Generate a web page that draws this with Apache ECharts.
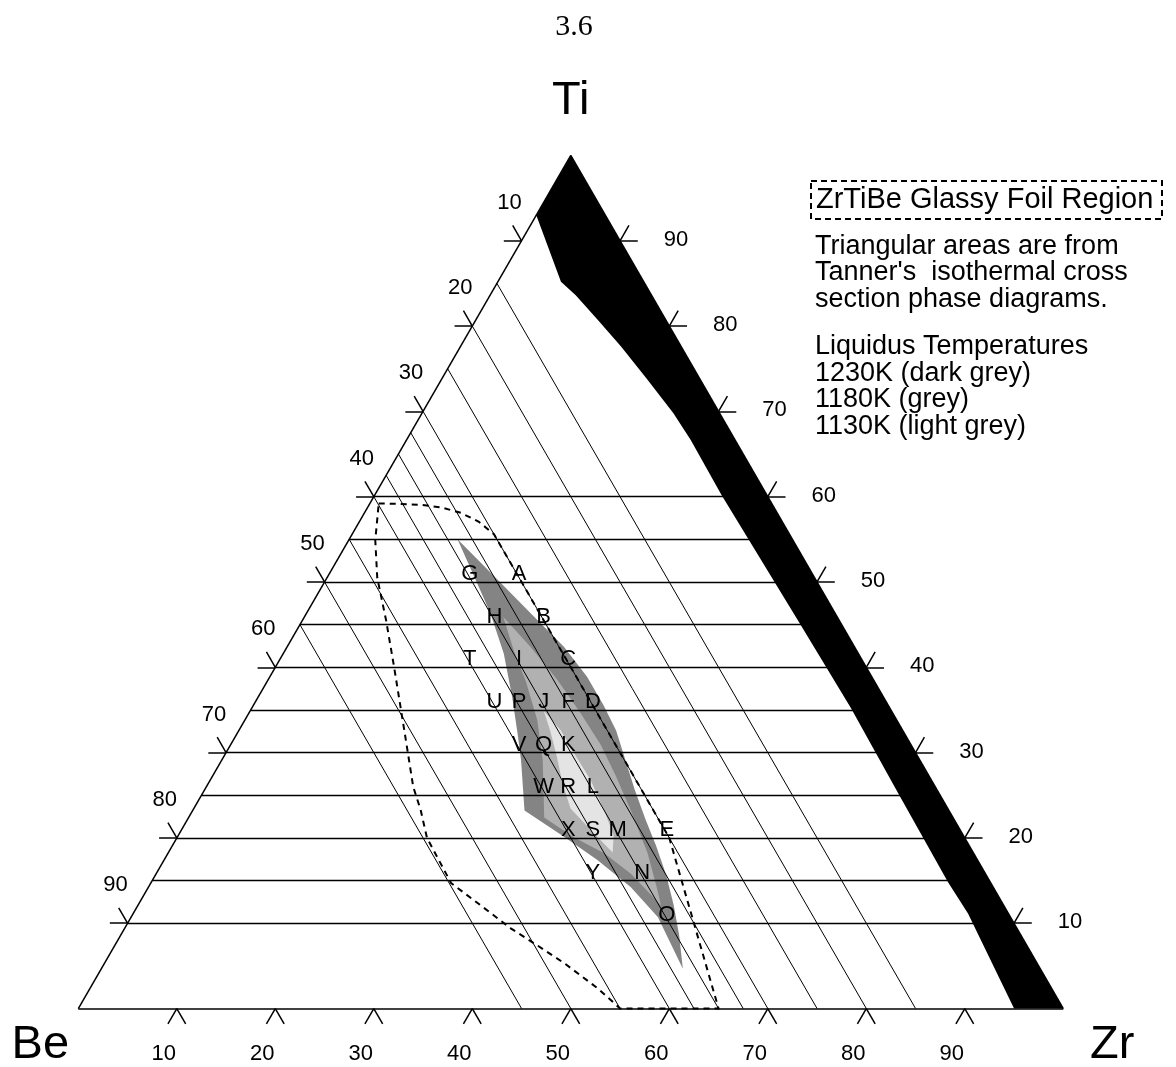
<!DOCTYPE html>
<html>
<head>
<meta charset="utf-8">
<script src="https://cdn.jsdelivr.net/npm/echarts/dist/echarts.min.js"></script>
<style>
  html, body { margin: 0; padding: 0; background: #fff; }
  #chart { width: 1176px; height: 1067px; }
</style>
</head>
<body>
<div id="chart"></div>
<script>
// ---- Data (compositions are [Be, Zr, Ti] in at.%) ----

// Tick values along each side of the triangle
const tickValues = [10, 20, 30, 40, 50, 60, 70, 80, 90];

// Guide lines: constant Ti (horizontal) and constant Be (parallel to the Ti-Zr side)
const tiGuideLines = [10, 15, 20, 25, 30, 35, 40, 45, 50, 55, 60];
const beGuideLines = [15, 20, 25, 30, 32.5, 35, 37.5, 40, 45, 50, 55];

// Alloy designations and their nominal compositions
const alloyNames = ['G', 'A', 'H', 'B', 'T', 'I', 'C', 'U', 'P', 'J', 'F', 'D',
  'V', 'Q', 'K', 'W', 'R', 'L', 'X', 'S', 'M', 'E', 'Y', 'N', 'O'];
const alloyCompositions = [
  [35, 15, 50], [30, 20, 50],
  [35, 20, 45], [30, 25, 45],
  [40, 20, 40], [35, 25, 40], [30, 30, 40],
  [40, 25, 35], [37.5, 27.5, 35], [35, 30, 35], [32.5, 32.5, 35], [30, 35, 35],
  [40, 30, 30], [37.5, 32.5, 30], [35, 35, 30],
  [40, 35, 25], [37.5, 37.5, 25], [35, 40, 25],
  [40, 40, 20], [37.5, 42.5, 20], [35, 45, 20], [30, 50, 20],
  [40, 45, 15], [35, 50, 15],
  [35, 55, 10]
];

// Liquidus regions
const liquidus1230K = [
  [34, 11, 55], [32.3, 17.4, 50.3], [30.9, 22.8, 46.3], [29.5, 28.1, 42.4],
  [28.9, 32.2, 38.9], [28.9, 35.55, 35.55], [29.1, 38.3, 32.6], [29.9, 41, 29.1],
  [30.7, 43.7, 25.6], [31.35, 46.6, 22.05], [31.8, 49.1, 19.1], [32.5, 51.9, 15.6],
  [33.5, 54.4, 12.1], [34.7, 56.7, 8.6], [36.3, 59.05, 4.65],
  [35.8, 53.5, 10.7], [36.8, 49, 14.2], [38.6, 44, 17.4], [40.6, 39.3, 20.1],
  [43.1, 33.7, 23.2], [40.5, 30.4, 29.1], [39.3, 28.5, 32.2], [37.7, 25.8, 36.5],
  [36, 22.4, 41.6], [35, 18.7, 46.3], [34.5, 14.9, 50.6]
];
const liquidus1180K = [
  [33.9, 20.2, 45.9], [32.9, 24.7, 42.4], [32.1, 29.4, 38.5], [31.7, 33.7, 34.6],
  [31.5, 37.6, 30.9], [31.8, 40.9, 27.3], [32.3, 44.5, 23.2], [33.1, 48.7, 18.2],
  [34.2, 51.7, 14.1], [34.8, 53.1, 12.1], [36, 48.2, 15.8], [37.5, 44.3, 18.2],
  [39.7, 40.2, 20.1], [41.5, 36.1, 22.4], [38.3, 32.6, 29.1], [36.5, 29.7, 33.8],
  [35.4, 26.3, 38.3], [34.8, 23.2, 42]
];
const liquidus1130K = [
  [35.3, 29.8, 34.9], [34.7, 32.7, 32.6], [34.7, 35.1, 30.2], [34.6, 38.65, 26.75],
  [35, 41.75, 23.25], [35.5, 44.2, 20.3], [36.6, 45.1, 18.3], [37.1, 43.2, 19.7],
  [37.7, 40.8, 21.5], [38.3, 38.25, 23.45], [37.7, 36.1, 26.2], [36.6, 33.7, 29.7],
  [35.8, 31.6, 32.6]
];

// Glassy foil region boundary (closed)
const glassyFoilRegion = [
  [39.9, 0.9, 59.2], [37.7, 3.15, 59.15], [35.7, 5.25, 59.05], [33.8, 7.45, 58.75],
  [32.1, 9.8, 58.1], [30.8, 12.15, 57.05], [30, 14.4, 55.6], [30, 50, 20],
  [35, 65, 0], [45, 55, 0], [46.1, 51.5, 2.4], [48, 46.7, 5.3], [49.7, 42.9, 7.4],
  [51.4, 39.2, 9.4], [53.3, 34.3, 12.4], [54.8, 30.5, 14.7], [54.6, 25.4, 20],
  [53.6, 23.1, 23.3], [53, 21, 26], [51, 17.5, 31.5], [47.9, 12, 40.1],
  [46, 8.5, 45.5], [44.4, 5.1, 50.5], [42.4, 2.7, 54.9], [39.9, 0.9, 59.2]
];

// Band along the Ti-Zr side
const tiZrBand = [
  [0, 0, 100], [7, 0, 93], [8.4, 6.4, 85.2], [7.7, 8.7, 83.6], [6.9, 12.4, 80.7],
  [6.1, 16.3, 77.6], [5.4, 20.7, 73.9], [4.7, 25.5, 69.8], [4.5, 28.85, 66.65],
  [4.6, 35.2, 60.2], [4.2, 50.3, 45.5], [3.95, 60.85, 35.2], [4.15, 70.85, 25],
  [4.3, 80.9, 14.8], [4.1, 84.75, 11.15], [5, 95, 0], [0, 100, 0]
];

// ---- Geometry helpers ----
const H = Math.sqrt(3) / 2;
// Be at (0,0), Zr at (100,0), Ti at (50, 86.6)
function toXY(c) { return [c[1] + c[2] / 2, c[2] * H]; }
function add(p, dx, dy) { return [p[0] + dx, p[1] + dy]; }

const TICK = 1.8;
const PX = 9.85;           // pixels per composition unit
const ORIGIN = [78.3, 1008.5];
const W = 1176, HGT = 1067;

// guide segments
const tiSegs = tiGuideLines.map(t => ({ coords: [toXY([100 - t, 0, t]), toXY([0, 100 - t, t])] }));
const beSegs = beGuideLines.map(b => ({ coords: [toXY([b, 0, 100 - b]), toXY([b, 100 - b, 0])] }));

// frame and ticks
const frameSegs = [
  { coords: [toXY([100, 0, 0]), toXY([0, 0, 100])] },
  { coords: [toXY([100, 0, 0]), toXY([0, 100, 0])] },
  { coords: [toXY([0, 100, 0]), toXY([0, 0, 100])] }
];
tickValues.forEach(v => {
  const l = toXY([v, 0, 100 - v]);
  frameSegs.push({ coords: [l, add(l, -TICK, 0)] });
  frameSegs.push({ coords: [l, add(l, -TICK / 2, TICK * H)] });
  const r = toXY([0, 100 - v, v]);
  frameSegs.push({ coords: [r, add(r, TICK, 0)] });
  frameSegs.push({ coords: [r, add(r, TICK / 2, TICK * H)] });
  const b = toXY([100 - v, v, 0]);
  frameSegs.push({ coords: [b, add(b, -TICK / 2, -TICK * H)] });
  frameSegs.push({ coords: [b, add(b, TICK / 2, -TICK * H)] });
});

const liquidusLayers = [
  { pts: liquidus1230K, fill: '#848484' },
  { pts: liquidus1180K, fill: '#b1b1b1' },
  { pts: liquidus1130K, fill: '#e4e4e4' }
];

function polygonSeries(layers, z) {
  return {
    type: 'custom',
    coordinateSystem: 'cartesian2d',
    silent: true,
    z: z,
    data: layers.map((l, i) => [i, 0]),
    renderItem: function (params, api) {
      const layer = layers[params.dataIndex];
      return {
        type: 'polygon',
        shape: { points: layer.pts.map(c => api.coord(toXY(c))) },
        style: { fill: layer.fill, stroke: null }
      };
    }
  };
}

const FONT = '"Liberation Sans", Arial, Helvetica, sans-serif';

// text placed at a composition point, shifted by a pixel offset
function textSeries(items, size, z) {
  return {
    type: 'custom',
    coordinateSystem: 'cartesian2d',
    silent: true,
    z: z,
    data: items.map(it => it.value),
    renderItem: function (params, api) {
      const it = items[params.dataIndex];
      const p = api.coord(it.value);
      return {
        type: 'text',
        x: p[0] + it.offset[0],
        y: p[1] + it.offset[1],
        style: {
          text: it.name, fill: '#000', font: size + 'px ' + FONT,
          align: 'center', textAlign: 'center',
          verticalAlign: 'middle', textVerticalAlign: 'middle'
        }
      };
    }
  };
}

const alloyItems = alloyNames.map((n, i) => ({
  name: n, value: toXY(alloyCompositions[i]), offset: [-2.5, -8]
}));

const tickItems = [];
tickValues.forEach(v => {
  tickItems.push({ name: String(v), value: toXY([v, 0, 100 - v]), offset: [-12, -38] });
  tickItems.push({ name: String(v), value: toXY([0, 100 - v, v]), offset: [56, -1] });
  tickItems.push({ name: String(v), value: toXY([100 - v, v, 0]), offset: [-13, 45] });
});

const vertexItems = [
  { name: 'Ti', value: toXY([0, 0, 100]), offset: [0, -54] },
  { name: 'Be', value: toXY([100, 0, 0]), offset: [-38, 37] },
  { name: 'Zr', value: toXY([0, 100, 0]), offset: [49, 37] }
];

const legendLines = [
  ['Triangular areas are from', 246.5],
  ["Tanner's  isothermal cross", 273],
  ['section phase diagrams.', 300],
  ['Liquidus Temperatures', 347],
  ['1230K (dark grey)', 373.5],
  ['1180K (grey)', 400],
  ['1130K (light grey)', 426.5]
];

function textEl(text, x, y, font, align) {
  return {
    type: 'text', x: x, y: y, silent: true,
    style: {
      text: text, font: font, fill: '#000',
      align: align, textAlign: align,
      verticalAlign: 'middle', textVerticalAlign: 'middle'
    }
  };
}

const graphics = [
  textEl('3.6', 574, 27, '30px "Liberation Serif", "Times New Roman", serif', 'center'),
  {
    type: 'rect', silent: true,
    shape: { x: 811, y: 181, width: 351, height: 38 },
    style: { fill: 'rgba(0,0,0,0)', stroke: '#000', lineWidth: 2, lineDash: [6, 4] }
  },
  textEl('ZrTiBe Glassy Foil Region', 816, 200, '29px ' + FONT, 'left')
];
legendLines.forEach(l => graphics.push(textEl(l[0], 815, l[1], '27px ' + FONT, 'left')));

const chart = echarts.init(document.getElementById('chart'), null, { renderer: 'canvas' });
chart.setOption({
  animation: false,
  backgroundColor: '#fff',
  grid: { left: 0, right: 0, top: 0, bottom: 0 },
  xAxis: { type: 'value', show: false, min: -ORIGIN[0] / PX, max: (W - ORIGIN[0]) / PX },
  yAxis: { type: 'value', show: false, min: -(HGT - ORIGIN[1]) / PX, max: ORIGIN[1] / PX },
  graphic: graphics,
  series: [
    polygonSeries(liquidusLayers, 1),
    {
      type: 'lines', coordinateSystem: 'cartesian2d', silent: true, z: 2,
      lineStyle: { color: '#000', width: 1.3, opacity: 1 },
      data: tiSegs
    },
    {
      type: 'lines', coordinateSystem: 'cartesian2d', silent: true, z: 2,
      lineStyle: { color: '#000', width: 1, opacity: 1 },
      data: beSegs
    },
    {
      type: 'lines', coordinateSystem: 'cartesian2d', polyline: true, silent: true, z: 3,
      lineStyle: { color: '#000', width: 2, type: [6, 5], opacity: 1 },
      data: [{ coords: glassyFoilRegion.map(toXY) }]
    },
    polygonSeries([{ pts: tiZrBand, fill: '#000' }], 4),
    {
      type: 'lines', coordinateSystem: 'cartesian2d', silent: true, z: 5,
      lineStyle: { color: '#000', width: 1.5, opacity: 1 },
      data: frameSegs
    },
    textSeries(alloyItems, 22, 6),
    textSeries(tickItems, 22, 6),
    textSeries(vertexItems, 47, 6)
  ]
});
</script>
</body>
</html>
